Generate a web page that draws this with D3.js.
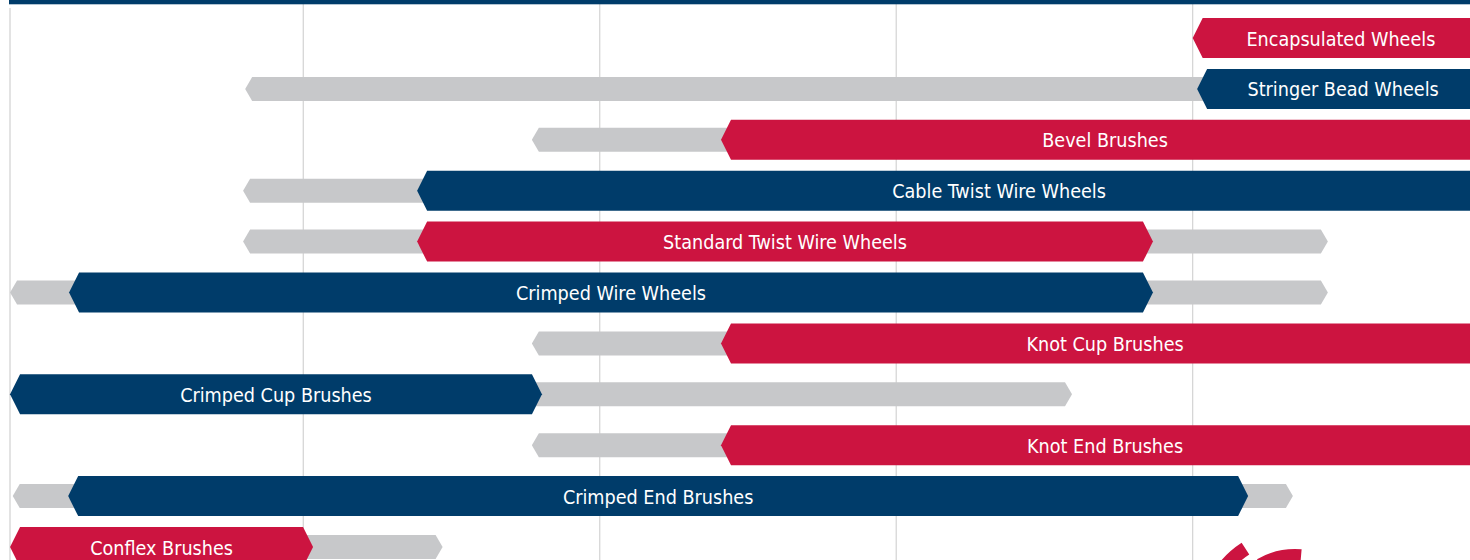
<!DOCTYPE html>
<html>
<head>
    <title>Brush Range Chart</title>
    <script src="https://cdnjs.cloudflare.com/ajax/libs/d3/7.8.5/d3.min.js"></script>
    <style>
        body {
            margin: 0;
            padding: 0;
            background: white;
            overflow: hidden;
        }
        .label {
            font-family: "DejaVu Sans Condensed", "Liberation Sans Narrow", sans-serif;
            font-stretch: condensed;
            font-size: 19.6px;
            fill: white;
        }
    </style>
</head>
<body>
    <svg id="chart" width="1470" height="560"></svg>

    <script>
        // Products, top to bottom
        const products = [
            'Encapsulated Wheels', 'Stringer Bead Wheels', 'Bevel Brushes',
            'Cable Twist Wire Wheels', 'Standard Twist Wire Wheels', 'Crimped Wire Wheels',
            'Knot Cup Brushes', 'Crimped Cup Brushes', 'Knot End Brushes',
            'Crimped End Brushes', 'Conflex Brushes'
        ];
        // colour of the labelled bar
        const barColors = ['red', 'navy', 'red', 'navy', 'red', 'navy', 'red', 'navy', 'red', 'navy', 'red'];
        // labelled (recommended) range, start / end
        const mainStart = [4.0, 4.015, 2.409, 1.384, 1.384, 0.21, 2.409, 0.011, 2.409, 0.207, 0.011];
        const mainEnd   = [5.0, 5.0, 5.0, 5.31, 3.866, 3.866, 5.0, 1.805, 5.0, 4.187, 1.033];
        // full (grey) range, start / end; null = no grey bar
        const fullStart = [null, 0.804, 1.771, 0.797, 0.797, 0.011, 1.771, 1.75, 1.771, 0.02, 0.9];
        const fullEnd   = [null, 4.1, 2.5, 1.45, 4.456, 4.456, 2.5, 3.593, 2.5, 4.338, 1.47];
        // gridlines
        const gridTicks = [1, 2, 3, 4];

        const width = 1470;
        const height = 560;
        const colors = { red: '#cc1440', navy: '#003c6a', grey: '#c7c8ca' };

        const svg = d3.select('#chart');

        const x = d3.scaleLinear().domain([0, 5]).range([6.8, 6.8 + 296.47 * 5]);
        const y = d3.scalePoint().domain(products).range([38, 547]);

        // pointed bar shape
        function arrow(x0, x1, cy, h, d) {
            const t = cy - h / 2, b = cy + h / 2;
            return `M${x0},${cy}L${x0 + d},${t}L${x1 - d},${t}L${x1},${cy}L${x1 - d},${b}L${x0 + d},${b}Z`;
        }

        // left border and gridlines
        svg.append('rect')
            .attr('x', 9).attr('y', 8).attr('width', 2).attr('height', height)
            .attr('fill', '#e3e3e3');

        svg.append('g')
            .selectAll('line')
            .data(gridTicks)
            .join('line')
            .attr('x1', d => x(d)).attr('x2', d => x(d))
            .attr('y1', 4).attr('y2', height)
            .attr('stroke', '#d3d3d3')
            .attr('stroke-width', 1.2);

        // top rule
        svg.append('rect')
            .attr('x', 9).attr('y', 0).attr('width', width).attr('height', 4.3)
            .attr('fill', colors.navy);

        const rows = products.map((name, i) => ({
            name,
            color: colors[barColors[i]],
            s: mainStart[i], e: mainEnd[i],
            fs: fullStart[i], fe: fullEnd[i]
        }));

        // grey full ranges
        svg.append('g')
            .selectAll('path')
            .data(rows.filter(d => d.fs !== null))
            .join('path')
            .attr('d', d => arrow(x(d.fs), x(d.fe), y(d.name), 24, 7))
            .attr('fill', colors.grey);

        // coloured ranges
        const bars = svg.append('g')
            .selectAll('g')
            .data(rows)
            .join('g');

        bars.append('path')
            .attr('d', d => arrow(x(d.s), x(d.e), y(d.name), 40, 10))
            .attr('fill', d => d.color);

        bars.append('text')
            .attr('class', 'label')
            .attr('x', d => (x(d.s) + x(d.e)) / 2)
            .attr('y', d => y(d.name) + 7.5)
            .attr('text-anchor', 'middle')
            .text(d => d.name);

        // partial logo, bottom right
        const logo = svg.append('g').attr('transform', 'translate(1295,625)');
        logo.append('path')
            .attr('d', d3.arc()({ innerRadius: 84, outerRadius: 98,
                startAngle: -52 * Math.PI / 180, endAngle: -33 * Math.PI / 180 }))
            .attr('fill', colors.red);
        logo.append('path')
            .attr('d', d3.arc()({ innerRadius: 56, outerRadius: 76,
                startAngle: -30 * Math.PI / 180, endAngle: 5 * Math.PI / 180 }))
            .attr('fill', colors.red);
    </script>
</body>
</html>
